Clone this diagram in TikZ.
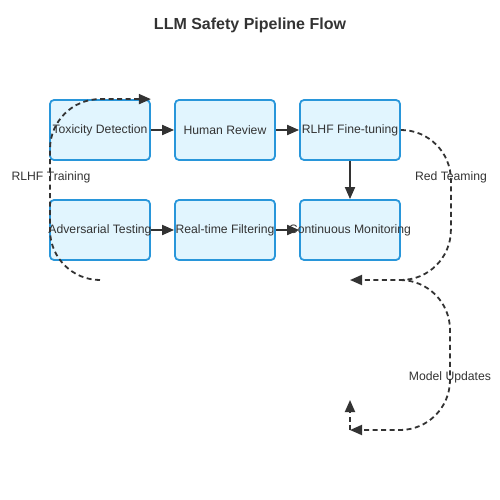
\documentclass[tikz,border=0pt]{standalone}
\usepackage{fontspec}
\setmainfont{Liberation Sans}
\usetikzlibrary{arrows.meta,positioning}

\definecolor{boxfill}{RGB}{225,245,254}
\definecolor{boxline}{RGB}{40,150,218}
\definecolor{inkgray}{RGB}{51,51,51}

\newcommand{\boxtext}[1]{\makebox[0pt]{\raisebox{-1pt}{#1}}}

\tikzset{every picture/.style={line width=0.75pt}}

\begin{document}
\begin{tikzpicture}[x=1pt,y=1pt,yscale=-1,xscale=1,
    stage/.style={draw=boxline,fill=boxfill,line width=1.8pt,rounded corners=4pt,
        minimum width=100pt,minimum height=60pt,inner sep=0pt,
        text=inkgray,font=\fontsize{12.2}{14}\selectfont},
    flow/.style={draw=inkgray,line width=1.8pt,-{Triangle[length=12pt,width=10pt]}},
    loopback/.style={flow,dash pattern={on 5pt off 3.5pt},rounded corners=50pt},
    tag/.style={text=inkgray,inner sep=0pt,font=\fontsize{12.2}{14}\selectfont}]
        \useasboundingbox (0,0) rectangle (500,500);

        % Title
        \node [tag,font=\fontsize{16}{19}\selectfont\bfseries] (title) at (250,25) {LLM Safety Pipeline Flow};

        % Stage boxes
        \node [stage] (td) at (100,130) {\boxtext{Toxicity Detection}};
        \node [stage] (hr) at (225,130) {\boxtext{Human Review}};
        \node [stage] (rl) at (350,130) {\boxtext{RLHF Fine-tuning}};
        \node [stage] (at) at (100,230) {\boxtext{Adversarial Testing}};
        \node [stage] (rf) at (225,230) {\boxtext{Real-time Filtering}};
        \node [stage] (cm) at (350,230) {\boxtext{Continuous Monitoring}};

        % Loose ends
        \coordinate (tr) at (100,280);
        \coordinate (fb1) at (350,280);
        \coordinate (mu) at (400,280);
        \coordinate (fb2) at (350,430);
        \coordinate (fb3) at (350,400);

        %Straight Lines
        \draw [flow] (td) -- (hr);
        \draw [flow] (hr) -- (rl);
        \draw [flow] (rl) -- (cm);
        \draw [flow] (at) -- (rf);
        \draw [flow] (rf) -- (cm);

        %Dashed Lines
        \draw [loopback] (tr) -- ++(-50,0) |- (td.north east);
        \draw [loopback] (rl.east) -- ++(50,0) |- (fb1);
        \draw [loopback] (mu) -- ++(50,0) |- (fb2);
        \draw [loopback] (fb2) -- (fb3);

        % Text Node
        \node [tag] (trlabel) at (51,177) {RLHF Training};
        % Text Node
        \node [tag] (rtlabel) at (451,177) {Red Teaming};
        % Text Node
        \node [tag] (mulabel) at (450,377) {Model Updates};

    \end{tikzpicture}
\end{document}
